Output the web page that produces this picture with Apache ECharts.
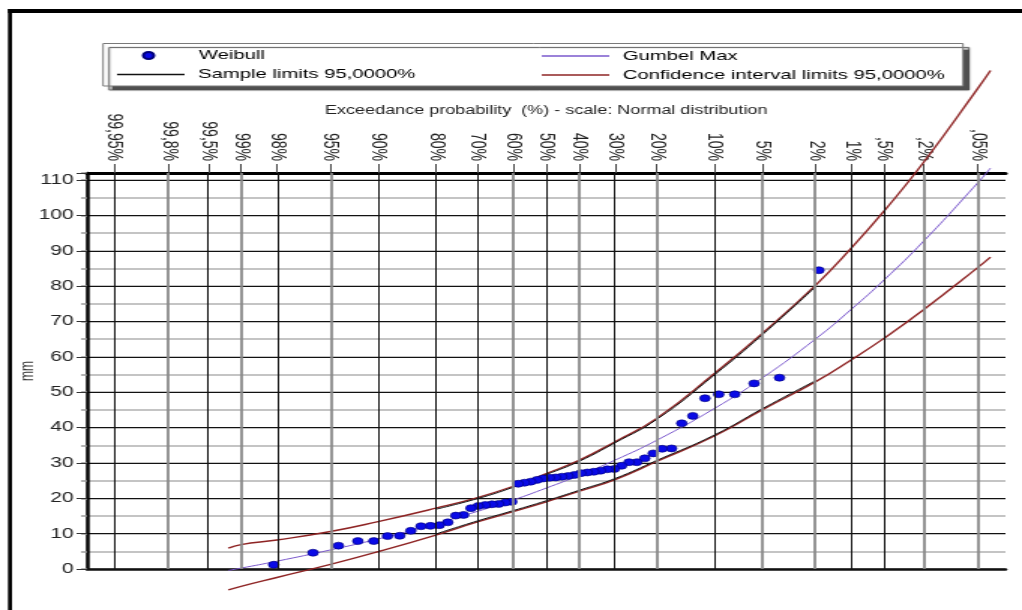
<!DOCTYPE html>
<html style="height: 100%">
<head>
    <meta charset="UTF-8">
    <title>Weibull / Gumbel Max</title>
</head>
<body style="height: 100%; margin: 0; overflow: hidden; background: #fff">
<!-- the reference is stretched sideways, so the chart is drawn narrow and scaled in x -->
<div id="container" style="width: 681px; height: 610px; transform: scaleX(1.5007); transform-origin: 0 0"></div>
<script src="https://cdn.jsdelivr.net/npm/echarts@6/dist/echarts.min.js"></script>
<script>
    // exceedance probability (%) of the top axis ticks
    var tickProb = [99.95, 99.8, 99.5, 99, 98, 95, 90, 80, 70, 60, 50, 40, 30, 20, 10, 5, 2, 1, 0.5, 0.2, 0.05];
    var tickLabels = ['99,95%', '99,8%', '99,5%', '99%', '98%', '95%', '90%', '80%', '70%', '60%', '50%', '40%',
        '30%', '20%', '10%', '5%', '2%', '1%', ',5%', ',2%', ',05%'];

    // sample, mm, largest first (Weibull plotting position m/(n+1))
    var weibullMm = [84.5, 54.1, 52.5, 49.4, 49.4, 48.3, 43.3, 41.2, 34.1, 34.0, 32.7, 31.3, 30.2, 30.2, 29.2,
        28.3, 28.2, 27.8, 27.5, 27.3, 27.1, 26.6, 26.3, 26.1, 25.9, 25.8, 25.6, 25.2, 24.7, 24.4, 24.1,
        19.0, 18.8, 18.4, 18.3, 18.1, 17.8, 17.2, 15.3, 15.1, 13.2, 12.4, 12.2, 12.1, 10.8, 9.4, 9.3,
        7.9, 7.9, 6.6, 4.6, 1.2];

    // fitted curves, read at these exceedance probabilities (%)
    var curveProb = [99.23, 99, 98, 95, 90, 80, 70, 60, 50, 40, 30, 20, 10, 5, 2, 1, 0.5, 0.2, 0.05, 0.0355];
    var gumbelMm = [-0.4, 0.25, 2.2, 5.4, 8.5, 12.8, 16.3, 19.5, 22.9, 26.5, 30.8, 36.4, 45.4, 54.0, 65.1, 73.5,
        81.8, 92.8, 109.3, 113.4];
    var ciUpperMm = [5.9, 6.9, 8.2, 10.6, 13.4, 17.2, 20.2, 23.4, 27.0, 30.8, 36.0, 42.6, 55.3, 66.6, 80.3, 90.8,
        101.3, 115.1, 136.0, 141.0];
    var ciLowerMm = [-5.9, -4.9, -2.4, 1.3, 4.9, 9.6, 13.3, 16.2, 19.0, 22.0, 25.3, 30.4, 37.6, 45.0, 53.0, 59.2,
        65.3, 73.4, 85.3, 88.2];

    var sampleProb = [80, 70, 60, 50, 40, 30, 20, 10, 5, 2];
    var sampleUpperMm = [16.9, 19.9, 23.1, 26.7, 30.5, 35.7, 42.3, 54.9, 66.2, 79.9];
    var sampleLowerMm = [9.9, 13.6, 16.5, 19.3, 22.3, 25.6, 30.7, 37.9, 45.3, 53.3];

    // grid line look per tick (1 dark, 0 grey)
    var tickDark = [1, 0, 1, 0, 1, 0, 1, 1, 1, 0, 1, 0, 1, 0, 1, 0, 0, 1, 1, 0, 0];

    // inverse normal cdf (Acklam)
    function probit(p) {
        var a = [-3.969683028665376e+01, 2.209460984245205e+02, -2.759285104469687e+02, 1.383577518672690e+02, -3.066479806614716e+01, 2.506628277459239e+00];
        var b = [-5.447609879822406e+01, 1.615858368580409e+02, -1.556989798598866e+02, 6.680131188771972e+01, -1.328068155288572e+01];
        var c = [-7.784894002430293e-03, -3.223964580411365e-01, -2.400758277161838e+00, -2.549732539343734e+00, 4.374664141464968e+00, 2.938163982698783e+00];
        var d = [7.784695709041462e-03, 3.224671290700398e-01, 2.445134137142996e+00, 3.754408661907416e+00];
        var q, r;
        if (p < 0.02425) {
            q = Math.sqrt(-2 * Math.log(p));
            return (((((c[0] * q + c[1]) * q + c[2]) * q + c[3]) * q + c[4]) * q + c[5]) / ((((d[0] * q + d[1]) * q + d[2]) * q + d[3]) * q + 1);
        }
        if (p <= 1 - 0.02425) {
            q = p - 0.5; r = q * q;
            return (((((a[0] * r + a[1]) * r + a[2]) * r + a[3]) * r + a[4]) * r + a[5]) * q / (((((b[0] * r + b[1]) * r + b[2]) * r + b[3]) * r + b[4]) * r + 1);
        }
        q = Math.sqrt(-2 * Math.log(1 - p));
        return -(((((c[0] * q + c[1]) * q + c[2]) * q + c[3]) * q + c[4]) * q + c[5]) / ((((d[0] * q + d[1]) * q + d[2]) * q + d[3]) * q + 1);
    }
    // exceedance % -> position on the normal scale
    function toZ(pct) { return -probit(pct / 100); }

    function pairs(probs, vals) {
        var out = [];
        for (var i = 0; i < vals.length; i++) out.push([toZ(probs[i]), vals[i]]);
        return out;
    }

    var tickZ = tickProb.map(toZ);
    function labelFor(v) {
        var best = 0;
        for (var i = 1; i < tickZ.length; i++) {
            if (Math.abs(tickZ[i] - v) < Math.abs(tickZ[best] - v)) best = i;
        }
        return tickLabels[best];
    }

    var n = weibullMm.length;
    var weibullData = weibullMm.map(function (v, i) { return [toZ((i + 1) / (n + 1) * 100), v]; });

    var gridLines = tickZ.map(function (z, i) {
        return {
            xAxis: z,
            lineStyle: tickDark[i] ? {color: '#111', width: 1, type: 'solid'} : {color: '#8a8a8a', width: 1.8, type: 'solid'}
        };
    });

    var font = 'Liberation Sans';
    var dom = document.getElementById("container");
    var myChart = echarts.init(dom);
    var redLine = {color: '#8e2424', width: 1.4};
    var blackLine = {color: '#111', width: 1};
    var purple = '#7a58cc';

    var legendBase = {
        orient: 'vertical', padding: 0, itemGap: 0, itemWidth: 45, itemHeight: 1.5,
        selectedMode: false,
        textStyle: {fontFamily: font, fontSize: 13.5, color: '#000', padding: [0, 0, 0, 4], lineHeight: 16}
    };
    function legend(extra) { return Object.assign({}, legendBase, extra); }

    var option = {
        animation: false,
        graphic: [
            {type: 'rect', shape: {x: 5.3, y: 9, width: 2.7, height: 601}, style: {fill: '#000'}},
            {type: 'rect', shape: {x: 5.3, y: 9, width: 680, height: 4}, style: {fill: '#000'}},
            {
                type: 'rect', z: 0, shape: {x: 68.7, y: 43.5, width: 573, height: 42.5},
                style: {fill: '#fff', stroke: '#7a7a7a', lineWidth: 1, shadowColor: '#505050', shadowOffsetX: 4, shadowOffsetY: 4, shadowBlur: 1}
            }
        ],
        legend: [
            legend({left: 94.5, top: 47.5, itemHeight: 7, textStyle: Object.assign({}, legendBase.textStyle, {padding: [0, 0, 0, 6]}),
                data: [{name: 'Weibull', icon: 'circle'}]}),
            legend({left: 78, top: 66.5, data: [{name: 'Sample limits 95,0000%', icon: 'rect'}]}),
            legend({left: 361, top: 48, data: [{name: 'Gumbel Max', icon: 'rect'}]}),
            legend({left: 361, top: 67, data: [{name: 'Confidence interval limits 95,0000%', icon: 'rect'}]})
        ],
        grid: {left: 58, right: 11, top: 173, bottom: 41, containLabel: false, outerBoundsMode: 'none'},
        xAxis: [
            {
                type: 'value', position: 'top', min: -3.5, max: 3.5,
                name: 'Exceedance probability  (%) - scale: Normal distribution',
                nameLocation: 'middle', nameGap: 56, nameMoveOverlap: false,
                nameTextStyle: {fontFamily: font, fontSize: 12, color: '#222'},
                axisLine: {show: true, onZero: false, lineStyle: {color: '#000', width: 3}},
                axisTick: {show: true, customValues: tickZ, length: 9, lineStyle: {color: '#444', width: 1}},
                axisLabel: {
                    customValues: tickZ, rotate: 90, margin: 12,
                    fontFamily: font, fontSize: 14, color: '#222',
                    formatter: function (v) { return labelFor(v); }
                },
                splitLine: {show: false}
            },
            {
                type: 'value', position: 'bottom', min: -3.5, max: 3.5,
                axisLine: {show: true, onZero: false, lineStyle: {color: '#111', width: 2.5}},
                axisTick: {show: false}, axisLabel: {show: false}, splitLine: {show: false}
            }
        ],
        yAxis: [
            {
                type: 'value', min: 0, max: 112, interval: 5,
                axisLine: {show: false, onZero: false},
                axisTick: {show: true, length: 4, lineStyle: {color: '#9a9a9a', width: 1.5}},
                axisLabel: {show: false},
                splitLine: {show: true, lineStyle: {color: '#c4c4c4', width: 2}}
            },
            {
                type: 'value', min: 0, max: 112, interval: 10, position: 'left',
                name: 'mm', nameLocation: 'middle', nameGap: 33, nameRotate: 90, nameMoveOverlap: false,
                nameTextStyle: {fontFamily: font, fontSize: 12, color: '#333'},
                axisLine: {show: true, onZero: false, lineStyle: {color: '#000', width: 2.5}},
                axisTick: {show: true, length: 7, lineStyle: {color: '#333', width: 1}},
                axisLabel: {
                    margin: 9, fontFamily: font, fontSize: 14, color: '#222',
                    formatter: function (v) { return v <= 110 ? String(v) : ''; }
                },
                splitLine: {show: true, lineStyle: {color: '#111', width: 1}}
            }
        ],
        series: [
            {
                name: 'grid', type: 'line', data: [], z: 1, silent: true,
                markLine: {silent: true, symbol: ['none', 'none'], label: {show: false}, animation: false, data: gridLines}
            },
            {
                name: 'Confidence interval limits 95,0000%', type: 'line', data: pairs(curveProb, ciUpperMm),
                xAxisIndex: 0, yAxisIndex: 1, symbol: 'none', smooth: 0.5, clip: false, z: 3, lineStyle: redLine, itemStyle: {color: redLine.color}
            },
            {
                name: 'Confidence interval limits 95,0000%', type: 'line', data: pairs(curveProb, ciLowerMm),
                xAxisIndex: 0, yAxisIndex: 1, symbol: 'none', smooth: 0.5, clip: false, z: 3, lineStyle: redLine, itemStyle: {color: redLine.color}
            },
            {
                name: 'Sample limits 95,0000%', type: 'line', data: pairs(sampleProb, sampleUpperMm),
                xAxisIndex: 0, yAxisIndex: 1, symbol: 'none', smooth: 0.5, clip: false, z: 3, lineStyle: blackLine, itemStyle: {color: blackLine.color}
            },
            {
                name: 'Sample limits 95,0000%', type: 'line', data: pairs(sampleProb, sampleLowerMm),
                xAxisIndex: 0, yAxisIndex: 1, symbol: 'none', smooth: 0.5, clip: false, z: 3, lineStyle: blackLine, itemStyle: {color: blackLine.color}
            },
            {
                name: 'Gumbel Max', type: 'line', data: pairs(curveProb, gumbelMm),
                xAxisIndex: 0, yAxisIndex: 1, symbol: 'none', smooth: 0.5, clip: false, z: 3,
                lineStyle: {color: purple, width: 1}, itemStyle: {color: purple}
            },
            {
                name: 'Weibull', type: 'scatter', data: weibullData,
                xAxisIndex: 0, yAxisIndex: 1, symbolSize: 7, clip: false, z: 4,
                itemStyle: {color: '#0a0ae6', borderColor: '#00007a', borderWidth: 0.6, opacity: 1}
            }
        ]
    };
    myChart.setOption(option);
</script>
</body>
</html>
